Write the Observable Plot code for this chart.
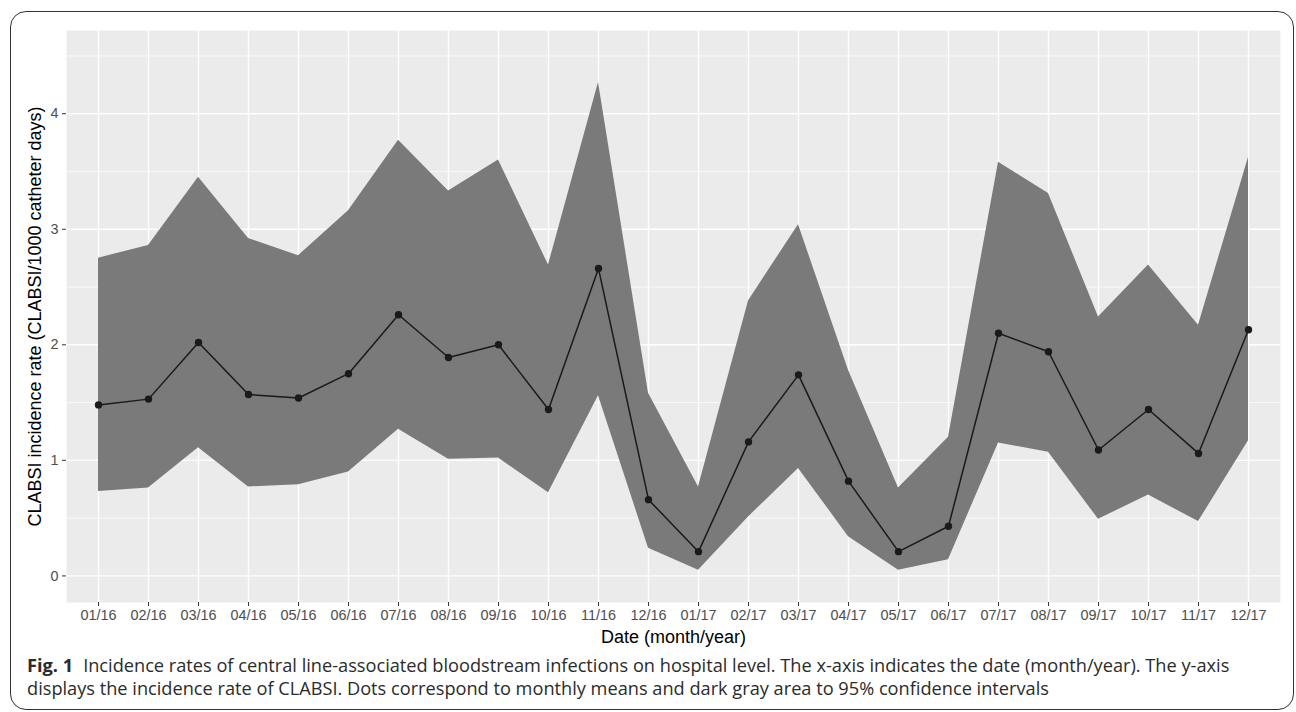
<!DOCTYPE html>
<html>
<head>
<meta charset="utf-8">
<script src="https://cdn.jsdelivr.net/npm/d3@7"></script>
<script src="https://cdn.jsdelivr.net/npm/@observablehq/plot@0.6"></script>
<style>
  html, body { margin: 0; padding: 0; background: #fff; }
  body { width: 1296px; height: 712px; position: relative; overflow: hidden; }
  #border { position: absolute; left: 10px; top: 11px; width: 1284px; height: 699px;
            border: 1.3px solid #333; border-radius: 16px; box-sizing: border-box; }
  #chart { position: absolute; left: 0; top: 0; }
  #caption { position: absolute; left: 27px; top: 655px; font-family: 'Open Sans', 'Noto Sans', sans-serif;
             color: #2b2b2b; white-space: nowrap; }
  #caption div { height: 20px; line-height: 20px; }
  #caption #cap2 { margin-top: 3px; }
  #caption b { font-weight: 700; margin-right: 10px; }
</style>
</head>
<body>
<div id="border"></div>
<div id="chart"></div>
<div id="caption">
  <div id="cap1"><b>Fig. 1</b>Incidence rates of central line-associated bloodstream infections on hospital level. The x-axis indicates the date (month/year). The y-axis</div>
  <div id="cap2">displays the incidence rate of CLABSI. Dots correspond to monthly means and dark gray area to 95% confidence intervals</div>
</div>
<script>
const months = ["01/16","02/16","03/16","04/16","05/16","06/16","07/16","08/16","09/16","10/16","11/16","12/16",
                "01/17","02/17","03/17","04/17","05/17","06/17","07/17","08/17","09/17","10/17","11/17","12/17"];
const means = [1.48, 1.53, 2.02, 1.57, 1.54, 1.75, 2.26, 1.89, 2.00, 1.44, 2.66, 0.66,
               0.21, 1.16, 1.74, 0.82, 0.21, 0.43, 2.10, 1.94, 1.09, 1.44, 1.06, 2.13];
const lower = [0.73, 0.76, 1.11, 0.77, 0.79, 0.90, 1.27, 1.01, 1.02, 0.72, 1.56, 0.24,
               0.05, 0.51, 0.93, 0.34, 0.05, 0.14, 1.15, 1.07, 0.49, 0.70, 0.47, 1.17];
const upper = [2.75, 2.86, 3.45, 2.92, 2.77, 3.16, 3.77, 3.33, 3.60, 2.69, 4.27, 1.58,
               0.77, 2.38, 3.04, 1.78, 0.76, 1.20, 3.58, 3.31, 2.24, 2.69, 2.17, 3.62];
const yTicks = [0, 1, 2, 3, 4];
const yMinor = [0.5, 1.5, 2.5, 3.5, 4.5];
const xTitle = "Date (month/year)";
const yTitle = "CLABSI incidence rate (CLABSI/1000 catheter days)";

const data = months.map((m, i) => ({month: m, mean: means[i], lower: lower[i], upper: upper[i]}));

const chart = Plot.plot({
  width: 1296,
  height: 654,
  marginLeft: 66,
  marginRight: 16,
  marginTop: 30,
  marginBottom: 52,
  style: {fontFamily: "'Liberation Sans', Arial, sans-serif", fontSize: "14.4px", background: "transparent"},
  x: {type: "point", domain: months, padding: 0.6},
  y: {domain: [-0.23, 4.72]},
  marks: [
    Plot.frame({fill: "#EBEBEB", stroke: "none"}),
    Plot.ruleY(yMinor, {stroke: "white", strokeWidth: 0.7}),
    Plot.ruleY(yTicks, {stroke: "white", strokeWidth: 1.4}),
    Plot.ruleX(months, {stroke: "white", strokeWidth: 1.4}),
    Plot.areaY(data, {x: "month", y1: "lower", y2: "upper", fill: "#7a7a7a"}),
    Plot.line(data, {x: "month", y: "mean", stroke: "#1a1a1a", strokeWidth: 1.5}),
    Plot.dot(data, {x: "month", y: "mean", r: 3.7, fill: "#1a1a1a"}),
    Plot.axisX({tickSize: 4, tickPadding: 3, fill: "#4D4D4D", stroke: "#333", label: null}),
    Plot.axisY(yTicks, {tickSize: 4, tickPadding: 4, tickFormat: d3.format("d"), fill: "#4D4D4D", stroke: "#333", label: null}),
    Plot.text([yTitle], {text: d => d, frameAnchor: "left", textAnchor: "middle", lineAnchor: "middle", dx: -31, rotate: -90, fontSize: 18, fill: "black"}),
    Plot.text([xTitle], {text: d => d, frameAnchor: "bottom", textAnchor: "middle", lineAnchor: "middle", dy: 34.7, fontSize: 18, fill: "black"})
  ]
});
document.getElementById("chart").appendChild(chart);

// fit caption font size so the first line spans the same width as the reference
const cap = document.getElementById("caption");
cap.style.fontSize = "18px";
const w = document.getElementById("cap1").scrollWidth;
const target = 1204;
cap.style.fontSize = (18 * target / w).toFixed(2) + "px";
</script>
</body>
</html>
